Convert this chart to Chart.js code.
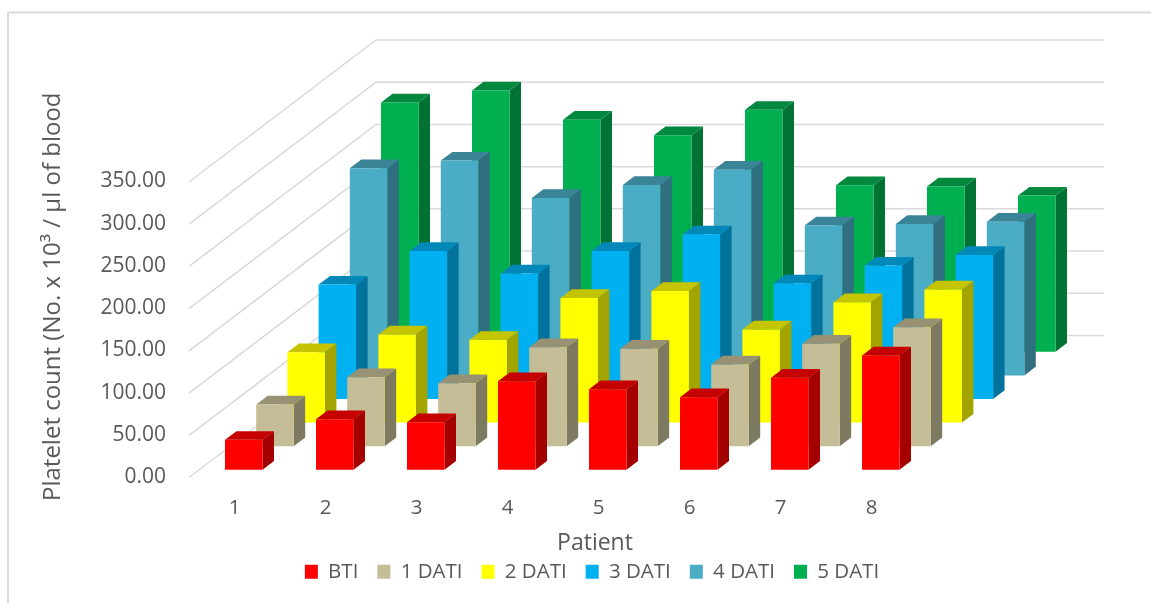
<!DOCTYPE html>
<html>
<head>
<meta charset="utf-8">
<style>html,body{margin:0;padding:0;background:#fff}canvas{display:block}</style>
<script src="https://cdn.jsdelivr.net/npm/chart.js@4"></script>
</head>
<body>
<canvas id="c" width="1151" height="603"></canvas>
<script>
const patients = ['1','2','3','4','5','6','7','8'];
const seriesNames = ['BTI','1 DATI','2 DATI','3 DATI','4 DATI','5 DATI'];
const bti   = [35.5, 60, 56.4, 105, 95.5, 86, 109, 135.4];
const dati1 = [49.4, 81.8, 74.6, 117.3, 115.4, 96.8, 121.3, 141];
const dati2 = [83.3, 104.3, 98, 147.7, 156, 110.2, 142.5, 157.6];
const dati3 = [135.5, 175.4, 148.6, 175.4, 195, 137, 158, 170.6];
const dati4 = [245.3, 254.4, 210.2, 225.6, 243.7, 177.7, 179.4, 182];
const dati5 = [295.3, 309.5, 274.8, 256.5, 286.6, 197.3, 195.7, 185];
const seriesValues = [bti, dati1, dati2, dati3, dati4, dati5];

const frontColors = ['#ff0000','#c4bd97','#ffff00','#00b0f0','#4bacc6','#00b050'];
const GRID = '#d9d9d9', TEXT = '#595959';
const FONT = {family:'"Open Sans"', size:20.5};
const TICKFONT = {family:'"Open Sans"', size:21};
const XTITLE = {family:'"Open Sans"', size:23};
const YTITLE = {family:'"Open Sans"', size:24};
const WALL = {dx:187, dy:-142};
const ROW = {dx0:9.25, dy0:-7.7, dx:31.2, dy:-23.6};
const DEPTH = {dx:11.5, dy:-8.7};

function shade(hex, f){
  const n = parseInt(hex.slice(1),16);
  return 'rgb(' + [n>>16, (n>>8)&255, n&255].map(v=>Math.round(v*f)).join(',') + ')';
}
function shiftMethod(scale, method, dx, dy){
  const flag = '_shifted_' + method;
  if(scale[flag]) return;
  scale[flag] = true;
  const orig = scale[method].bind(scale);
  scale[method] = function(...a){
    const ctx = scale.ctx;
    ctx.save(); ctx.translate(dx, dy); orig(...a); ctx.restore();
  };
}
const threeD = {
  id:'threeD',
  beforeDraw(chart){
    const ctx = chart.ctx;
    ctx.save();
    ctx.strokeStyle = GRID; ctx.lineWidth = 2;
    ctx.beginPath(); ctx.moveTo(8,603); ctx.lineTo(8,12.5); ctx.lineTo(1151,12.5); ctx.stroke();
    ctx.restore();
  },
  beforeDatasetsDraw(chart){
    const ctx = chart.ctx, y = chart.scales.y, a = chart.chartArea;
    ctx.save();
    ctx.strokeStyle = GRID; ctx.lineWidth = 1.5;
    y.ticks.forEach(t=>{
      const py = y.getPixelForValue(t.value);
      ctx.beginPath();
      ctx.moveTo(a.left, py);
      ctx.lineTo(a.left+WALL.dx, py+WALL.dy);
      ctx.lineTo(a.right+WALL.dx, py+WALL.dy);
      ctx.stroke();
    });
    ctx.restore();
  },
  beforeDatasetDraw(chart, args){
    const ctx = chart.ctx, i = args.index, col = frontColors[i];
    ctx.save();
    ctx.translate(ROW.dx0+ROW.dx*i, ROW.dy0+ROW.dy*i);
    args.meta.data.forEach(el=>{
      const p = el.getProps(['x','y','base','width'], true);
      const x0 = p.x-p.width/2, x1 = p.x+p.width/2;
      ctx.fillStyle = shade(col, .645);
      ctx.beginPath();
      ctx.moveTo(x1,p.base); ctx.lineTo(x1+DEPTH.dx,p.base+DEPTH.dy);
      ctx.lineTo(x1+DEPTH.dx,p.y+DEPTH.dy); ctx.lineTo(x1,p.y);
      ctx.closePath(); ctx.fill();
      ctx.fillStyle = shade(col, .77);
      ctx.beginPath();
      ctx.moveTo(x0,p.y); ctx.lineTo(x0+DEPTH.dx,p.y+DEPTH.dy);
      ctx.lineTo(x1+DEPTH.dx,p.y+DEPTH.dy); ctx.lineTo(x1,p.y);
      ctx.closePath(); ctx.fill();
    });
  },
  afterDatasetDraw(chart){ chart.ctx.restore(); }
};

new Chart(document.getElementById('c'), {
  type:'bar',
  data:{
    labels:patients,
    datasets:seriesNames.map((name,i)=>({
      label:name, data:seriesValues[i], backgroundColor:frontColors[i],
      borderWidth:0, grouped:false, clip:false,
      categoryPercentage:1, barPercentage:.412
    }))
  },
  options:{
    responsive:false, animation:false, devicePixelRatio:1,
    layout:{padding:{left:41,right:8,top:182,bottom:11}},
    plugins:{
      tooltip:{enabled:false},
      legend:{
        position:'bottom',
        labels:{boxWidth:13,boxHeight:14,padding:19,color:TEXT,font:FONT}
      }
    },
    scales:{
      x:{
        grid:{display:false,drawTicks:false}, border:{display:false},
        ticks:{color:TEXT,font:FONT,padding:18,maxRotation:0},
        title:{display:true,text:'Patient',color:TEXT,font:XTITLE,padding:0},
        afterFit(s){ s.height = 65; shiftMethod(s,'drawTitle',42,15); }
      },
      y:{
        min:0,max:350,
        grid:{display:false,drawTicks:false}, border:{display:false},
        ticks:{stepSize:50,color:TEXT,font:TICKFONT,padding:23,callback:v=>Number(v).toFixed(2)},
        title:{display:true,text:'Platelet count (No. x 10³ / µl of blood',color:TEXT,font:YTITLE,padding:0},
        afterFit(s){
          s.width = 148;
          shiftMethod(s,'drawTitle',-2,-33);
          shiftMethod(s,'drawLabels',0,-0.5);
        }
      },
      spacer:{
        position:'right',display:true,min:0,max:1,
        grid:{display:false,drawTicks:false}, border:{display:false},
        ticks:{display:false},
        afterFit(s){ s.width = 226; }
      }
    }
  },
  plugins:[threeD]
});
</script>
</body>
</html>
